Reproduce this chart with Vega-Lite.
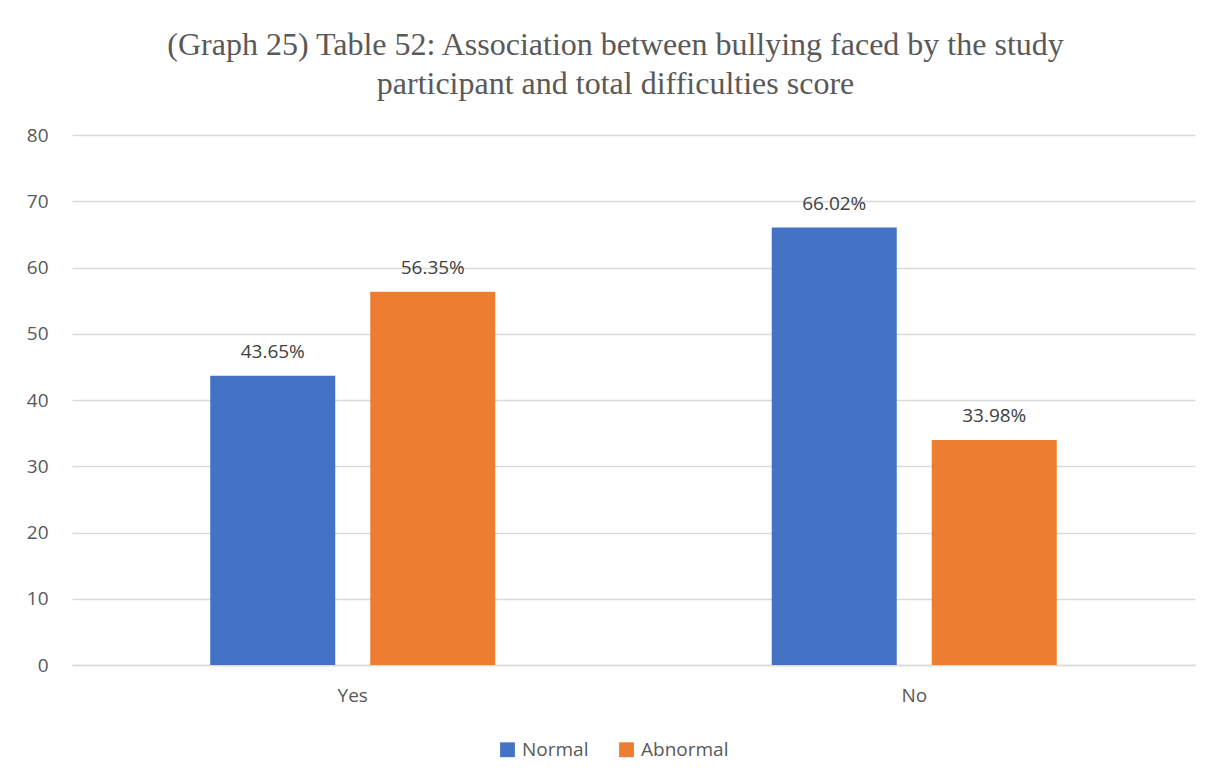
{
  "$schema": "https://vega.github.io/schema/vega-lite/v6.json",
  "autosize": {"type": "none"},
  "width": 1123,
  "height": 530,
  "padding": {"left": 72, "top": 135, "right": 26, "bottom": 117},
  "background": "white",
  "title": {
    "text": ["(Graph 25) Table 52: Association between bullying faced by the study", "participant and total difficulties score"],
    "font": "Liberation Serif",
    "fontSize": 32,
    "fontWeight": "normal",
    "color": "#595959",
    "lineHeight": 39,
    "anchor": "middle",
    "dx": -18,
    "offset": 25
  },
  "data": {
    "values": [
      {"bullying": "Yes", "score": "Normal", "value": 43.65},
      {"bullying": "Yes", "score": "Abnormal", "value": 56.35},
      {"bullying": "No", "score": "Normal", "value": 66.02},
      {"bullying": "No", "score": "Abnormal", "value": 33.98}
    ]
  },
  "encoding": {
    "x": {
      "field": "bullying",
      "type": "nominal",
      "sort": ["Yes", "No"],
      "scale": {"paddingInner": 0, "paddingOuter": 0},
      "axis": {
        "title": null,
        "labelAngle": 0,
        "labelFont": "Open Sans",
        "labelFontSize": 19,
        "labelColor": "#595959",
        "labelPadding": 21,
        "ticks": false,
        "domain": true,
        "domainColor": "#d9d9d9",
        "domainWidth": 1.5
      }
    },
    "xOffset": {
      "field": "score",
      "type": "nominal",
      "sort": ["Normal", "Abnormal"],
      "scale": {"paddingInner": 0.21875, "paddingOuter": 0.864}
    },
    "y": {
      "field": "value",
      "type": "quantitative",
      "scale": {"domain": [0, 80]},
      "axis": {
        "title": null,
        "values": [0, 10, 20, 30, 40, 50, 60, 70, 80],
        "labelFont": "Open Sans",
        "labelFontSize": 19,
        "labelColor": "#595959",
        "labelPadding": 24,
        "ticks": false,
        "domain": false,
        "grid": true,
        "gridColor": "#d9d9d9",
        "gridWidth": 1.5
      }
    }
  },
  "layer": [
    {
      "mark": {"type": "bar"},
      "encoding": {
        "color": {
          "field": "score",
          "type": "nominal",
          "sort": ["Normal", "Abnormal"],
          "scale": {"domain": ["Normal", "Abnormal"], "range": ["#4472C4", "#ED7D31"]},
          "legend": {
            "title": null,
            "orient": "none",
            "direction": "horizontal",
            "legendX": 426,
            "legendY": 605,
            "symbolType": "square",
            "symbolSize": 220,
            "symbolStrokeWidth": 0,
            "labelFont": "Open Sans",
            "labelFontSize": 19,
            "labelColor": "#595959",
            "columnPadding": 28,
            "labelOffset": 5
          }
        }
      }
    },
    {
      "transform": [{"calculate": "format(datum.value, '.2f') + '%'", "as": "label"}],
      "mark": {"type": "text", "dy": -24, "font": "Open Sans", "fontSize": 19, "color": "#404040"},
      "encoding": {
        "text": {"field": "label", "type": "nominal"},
        "detail": {"field": "score"}
      }
    }
  ],
  "config": {"view": {"stroke": null}}
}
